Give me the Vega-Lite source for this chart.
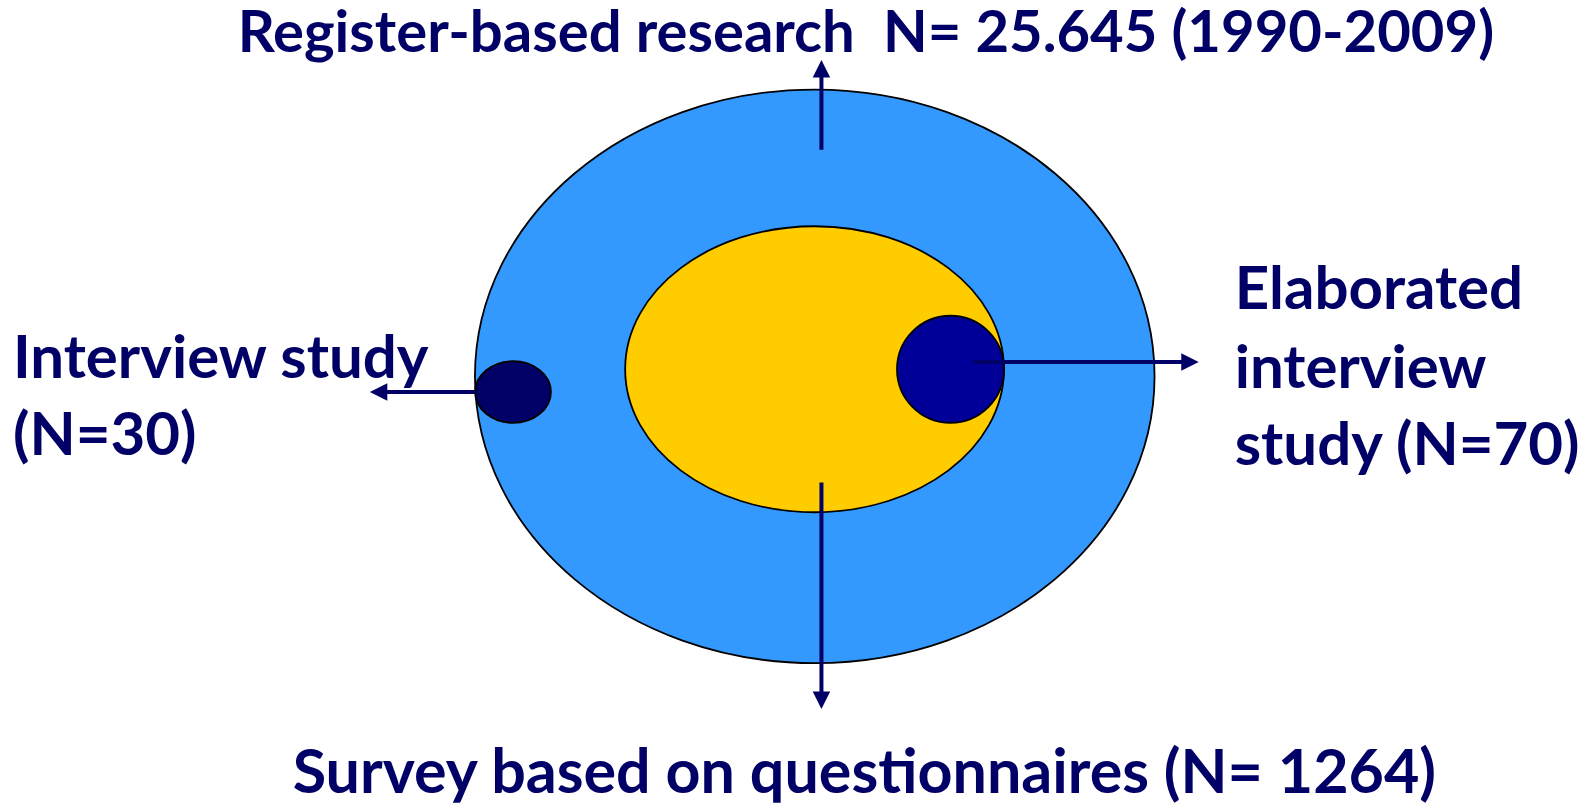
{
  "$schema": "https://vega.github.io/schema/vega-lite/v6.json",
  "width": 1581,
  "height": 805,
  "autosize": {"type": "fit", "contains": "padding"},
  "padding": 0,
  "background": "white",
  "view": {"stroke": null},
  "config": {"text": {"font": "Lato", "fontWeight": "bold", "fontSize": 60, "color": "#000066", "baseline": "alphabetic"}},
  "datasets": {
    "arrows": [
      {"name": "register", "x": 823, "y": 150, "x2": 823, "y2": 72, "tipx": 823, "tipy": 60, "dir": 0},
      {"name": "survey", "x": 823, "y": 483, "x2": 823, "y2": 698, "tipx": 823, "tipy": 710, "dir": 180},
      {"name": "interview", "x": 476, "y": 392.5, "x2": 383, "y2": 392.5, "tipx": 370.5, "tipy": 392.5, "dir": 270},
      {"name": "elaborated", "x": 975, "y": 362.5, "x2": 1189, "y2": 362.5, "tipx": 1201, "tipy": 362.5, "dir": 90}
    ]
  },
  "encoding": {
    "x": {"field": "x", "type": "quantitative", "scale": {"domain": [0, 1581], "nice": false, "zero": false}, "axis": null},
    "y": {"field": "y", "type": "quantitative", "scale": {"domain": [0, 805], "nice": false, "zero": false, "reverse": true}, "axis": null}
  },
  "layer": [
    {
      "data": {"values": [{"name": "Register-based research", "x": 816.3, "y": 376.8}]},
      "mark": {"type": "point", "filled": true, "fill": "#3399FF", "stroke": "#000000", "strokeWidth": 1.8, "opacity": 1, "size": 461856, "shape": "M -1 0 A 1 0.844 0 1 1 1 0 A 1 0.844 0 1 1 -1 0 Z"}
    },
    {
      "data": {"values": [{"name": "Survey", "x": 816.1, "y": 369.7}]},
      "mark": {"type": "point", "filled": true, "fill": "#FFCC00", "stroke": "#000000", "strokeWidth": 1.8, "opacity": 1, "size": 143489, "shape": "M -1 0 A 1 0.755 0 1 1 1 0 A 1 0.755 0 1 1 -1 0 Z"}
    },
    {
      "data": {"values": [{"name": "Elaborated interview study", "x": 952.3, "y": 369.7}]},
      "mark": {"type": "point", "filled": true, "fill": "#000099", "stroke": "#000000", "strokeWidth": 1.8, "opacity": 1, "size": 11449, "shape": "M -1 0 A 1 1 0 1 1 1 0 A 1 1 0 1 1 -1 0 Z"}
    },
    {
      "data": {"values": [{"name": "Interview study", "x": 514, "y": 392.5}]},
      "mark": {"type": "point", "filled": true, "fill": "#000066", "stroke": "#000000", "strokeWidth": 1.8, "opacity": 1, "size": 5746, "shape": "M -1 0 A 1 0.813 0 1 1 1 0 A 1 0.813 0 1 1 -1 0 Z"}
    },
    {
      "data": {"name": "arrows"},
      "mark": {"type": "rule", "color": "#000066", "strokeWidth": 4},
      "encoding": {
        "x2": {"field": "x2"},
        "y2": {"field": "y2"}
      }
    },
    {
      "data": {"name": "arrows"},
      "mark": {"type": "point", "filled": true, "fill": "#000066", "strokeWidth": 0, "opacity": 1, "size": 1225, "shape": "M 0 0 L 0.5 1 L -0.5 1 Z"},
      "encoding": {
        "x": {"field": "tipx", "type": "quantitative"},
        "y": {"field": "tipy", "type": "quantitative"},
        "angle": {"field": "dir", "type": "quantitative", "scale": null}
      }
    },
    {
      "data": {"values": [
        {"label": "Register-based research \u00a0N= 25.645 (1990-2009)", "x": 867.5, "y": 52}
      ]},
      "mark": {"type": "text", "align": "center", "fontSize": 58},
      "encoding": {"text": {"field": "label"}}
    },
    {
      "data": {"values": [
        {"label": "Survey based on questionnaires (N= 1264)", "x": 866, "y": 794}
      ]},
      "mark": {"type": "text", "align": "center", "fontSize": 61}
,
      "encoding": {"text": {"field": "label"}}
    },
    {
      "data": {"values": [
        {"label": "Interview study", "x": 13, "y": 378},
        {"label": "(N=30)", "x": 13, "y": 456},
        {"label": "Elaborated", "x": 1237, "y": 309},
        {"label": "interview", "x": 1237, "y": 388},
        {"label": "study (N=70)", "x": 1237, "y": 466}
      ]},
      "mark": {"type": "text", "align": "left"},
      "encoding": {"text": {"field": "label"}}
    }
  ]
}
